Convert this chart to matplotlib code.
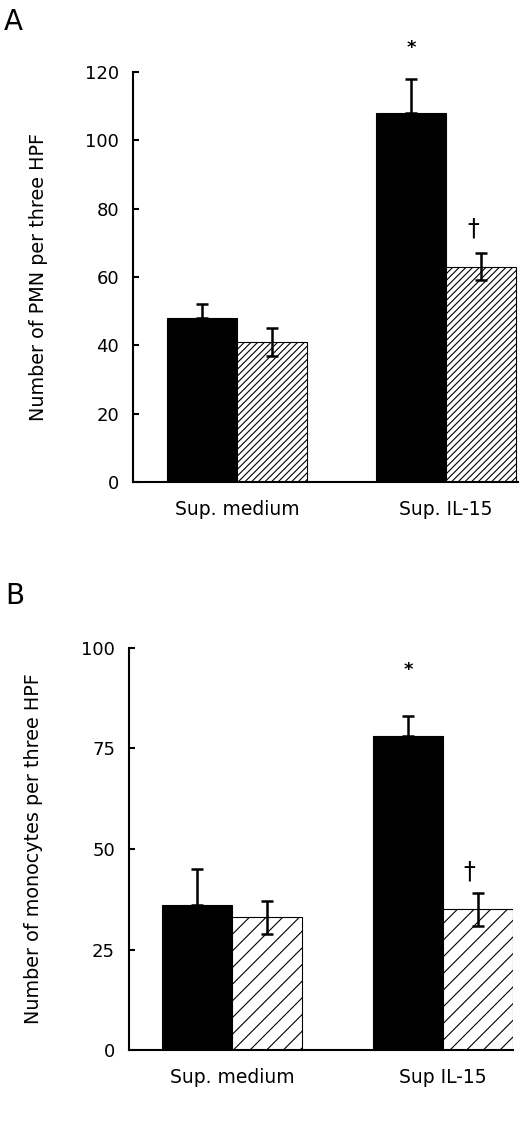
import matplotlib
matplotlib.use("Agg")
import matplotlib.pyplot as plt
import numpy as np

plt.rcParams['font.family'] = ['DejaVu Sans']
plt.rcParams['hatch.linewidth'] = 0.8

# Groups on the x axis
groups_a = ["Sup. medium", "Sup. IL-15"]
groups_b = ["Sup. medium", "Sup IL-15"]

# Panel A: PMN counts
pmn_black = [48, 108]
pmn_black_err = [4, 10]
pmn_hatch = [41, 63]
pmn_hatch_err = [4, 4]

# Panel B: monocyte counts
mono_black = [36, 78]
mono_black_err = [9, 5]
mono_hatch = [33, 35]
mono_hatch_err = [4, 4]


def panel(ax, groups, black, black_err, hatch_vals, hatch_err, w, dens,
          ymax, yticks, ylabel, star_off, dag_off):
    x = np.arange(len(groups))
    xb = x - w / 2
    xh = x + w / 2
    ax.bar(xb, black, width=w, color='black', edgecolor='black', linewidth=0.8)
    ax.bar(xh, hatch_vals, width=w, color='white', edgecolor='black',
           linewidth=0.8, hatch=dens)
    # black bars: upper error only
    ax.errorbar(xb, black, yerr=[np.zeros(len(black)), black_err], fmt='none',
                ecolor='black', elinewidth=1.8, capsize=4.3, capthick=1.8)
    ax.errorbar(xh, hatch_vals, yerr=hatch_err, fmt='none',
                ecolor='black', elinewidth=1.8, capsize=4.3, capthick=1.8)

    ax.set_ylim(0, ymax)
    ax.set_yticks(yticks)
    ax.set_xticks(x)
    ax.set_xticklabels(groups, fontsize=13.5)
    ax.tick_params(axis='x', length=0, pad=13)
    ax.tick_params(axis='y', direction='in', length=4.3, width=1.5,
                   labelsize=13, pad=10)
    for s in ['top', 'right']:
        ax.spines[s].set_visible(False)
    for s in ['left', 'bottom']:
        ax.spines[s].set_linewidth(1.5)
    ax.set_ylabel(ylabel, fontsize=13.8)

    # significance markers
    ax.text(xb[1], black[1] + black_err[1] + star_off, '*', ha='center',
            va='center', fontsize=13, fontweight='bold', clip_on=False)
    ax.text(xh[1] - 0.04, hatch_vals[1] + hatch_err[1] + dag_off, '\u2020',
            ha='center', va='center', fontsize=17, clip_on=False)


fig = plt.figure(figsize=(5.2, 11.43), dpi=100)

ax1 = fig.add_axes([0.2558, 0.5783, 0.7404, 0.3587])
panel(ax1, groups_a, pmn_black, pmn_black_err, pmn_hatch, pmn_hatch_err,
      0.335, '/////', 120, [0, 20, 40, 60, 80, 100, 120],
      'Number of PMN per three HPF', 9, 7.3)
ax1.set_xlim(-0.4976, 1.344)
ax1.yaxis.set_label_coords(-0.221, 0.5)

ax2 = fig.add_axes([0.2481, 0.0811, 0.7385, 0.3522])
panel(ax2, groups_b, mono_black, mono_black_err, mono_hatch, mono_hatch_err,
      0.332, '//', 100, [0, 25, 50, 75, 100],
      'Number of monocytes per three HPF', 11.4, 5.3)
ax2.set_xlim(-0.488, 1.332)
ax2.yaxis.set_label_coords(-0.224, 0.5)

fig.text(0.008, 0.993, 'A', fontsize=20, va='top', ha='left')
fig.text(0.010, 0.491, 'B', fontsize=20, va='top', ha='left')

fig.savefig('out.png', dpi=100)
